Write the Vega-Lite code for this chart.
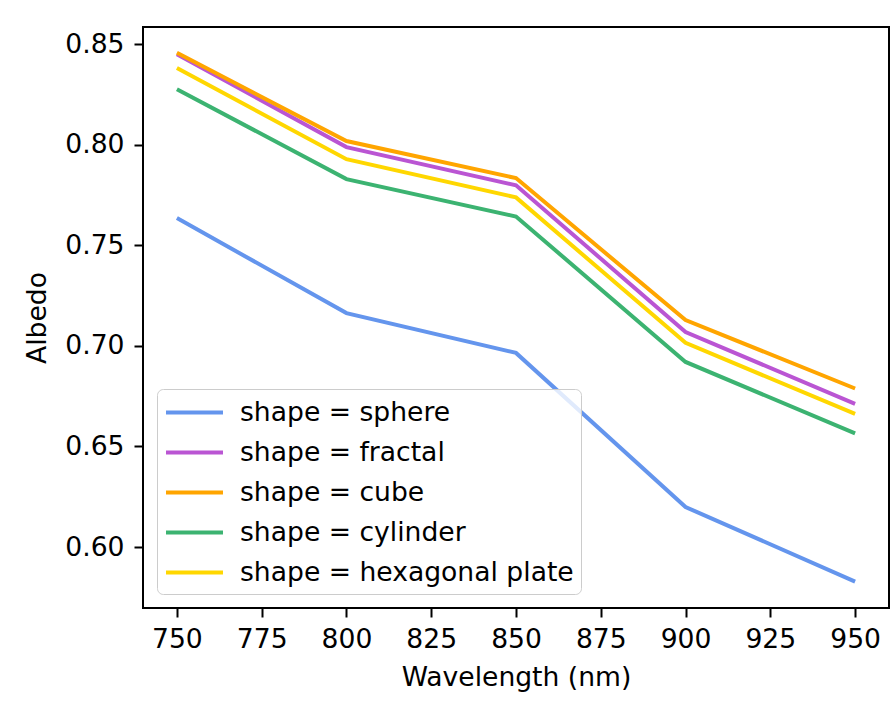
{
  "$schema": "https://vega.github.io/schema/vega-lite/v6.json",
  "width": 746,
  "height": 581,
  "autosize": {"type": "none"},
  "padding": {"left": 143, "top": 27, "right": 7, "bottom": 99},
  "background": "white",
  "config": {
    "font": "DejaVu Sans",
    "view": {"stroke": "black", "strokeWidth": 2},
    "axis": {
      "grid": false,
      "domain": false,
      "tickColor": "black",
      "tickWidth": 2,
      "tickSize": 9,
      "labelFont": "DejaVu Sans",
      "labelFontSize": 26.6,
      "labelColor": "black",
      "titleFont": "DejaVu Sans",
      "titleFontSize": 26.6,
      "titleFontWeight": "normal",
      "titleColor": "black"
    }
  },
  "data": {
    "values": [
      {"shape": "sphere", "wavelength": 750, "albedo": 0.7635},
      {"shape": "sphere", "wavelength": 800, "albedo": 0.7163},
      {"shape": "sphere", "wavelength": 850, "albedo": 0.6965},
      {"shape": "sphere", "wavelength": 900, "albedo": 0.6199},
      {"shape": "sphere", "wavelength": 950, "albedo": 0.5828},
      {"shape": "fractal", "wavelength": 750, "albedo": 0.8450},
      {"shape": "fractal", "wavelength": 800, "albedo": 0.7988},
      {"shape": "fractal", "wavelength": 850, "albedo": 0.7798},
      {"shape": "fractal", "wavelength": 900, "albedo": 0.7069},
      {"shape": "fractal", "wavelength": 950, "albedo": 0.6712},
      {"shape": "cube", "wavelength": 750, "albedo": 0.8457},
      {"shape": "cube", "wavelength": 800, "albedo": 0.8018},
      {"shape": "cube", "wavelength": 850, "albedo": 0.7834},
      {"shape": "cube", "wavelength": 900, "albedo": 0.7128},
      {"shape": "cube", "wavelength": 950, "albedo": 0.6788},
      {"shape": "cylinder", "wavelength": 750, "albedo": 0.8276},
      {"shape": "cylinder", "wavelength": 800, "albedo": 0.7829},
      {"shape": "cylinder", "wavelength": 850, "albedo": 0.7643},
      {"shape": "cylinder", "wavelength": 900, "albedo": 0.6920},
      {"shape": "cylinder", "wavelength": 950, "albedo": 0.6565},
      {"shape": "hexagonal plate", "wavelength": 750, "albedo": 0.8381},
      {"shape": "hexagonal plate", "wavelength": 800, "albedo": 0.7928},
      {"shape": "hexagonal plate", "wavelength": 850, "albedo": 0.7738},
      {"shape": "hexagonal plate", "wavelength": 900, "albedo": 0.7015},
      {"shape": "hexagonal plate", "wavelength": 950, "albedo": 0.6662}
    ]
  },
  "mark": {"type": "line", "strokeWidth": 4, "clip": true},
  "encoding": {
    "x": {
      "field": "wavelength",
      "type": "quantitative",
      "title": "Wavelength (nm)",
      "scale": {"domain": [740, 960], "nice": false, "zero": false},
      "axis": {"values": [750, 775, 800, 825, 850, 875, 900, 925, 950], "labelPadding": 9, "titlePadding": 12}
    },
    "y": {
      "field": "albedo",
      "type": "quantitative",
      "title": "Albedo",
      "scale": {"domain": [0.5697, 0.8585], "nice": false, "zero": false},
      "axis": {"values": [0.60, 0.65, 0.70, 0.75, 0.80, 0.85], "format": ".2f", "labelPadding": 10, "titlePadding": 13}
    },
    "color": {
      "field": "shape",
      "type": "nominal",
      "sort": ["sphere", "fractal", "cube", "cylinder", "hexagonal plate"],
      "scale": {
        "domain": ["sphere", "fractal", "cube", "cylinder", "hexagonal plate"],
        "range": ["#6495ED", "#BA55D3", "#FFA500", "#3CB371", "#FFD700"]
      },
      "legend": {
        "title": null,
        "orient": "bottom-left",
        "offset": 14,
        "labelExpr": "'shape = ' + datum.label",
        "labelFontSize": 26.6,
        "labelFont": "DejaVu Sans",
        "labelColor": "black",
        "labelLimit": 500,
        "symbolType": "M-2,0H2",
        "symbolSize": 812,
        "symbolStrokeWidth": 4,
        "symbolOffset": 14,
        "labelOffset": 29,
        "rowPadding": 9,
        "padding": 7,
        "fillColor": "rgba(255,255,255,0.8)",
        "strokeColor": "#cccccc",
        "cornerRadius": 6
      }
    }
  }
}
